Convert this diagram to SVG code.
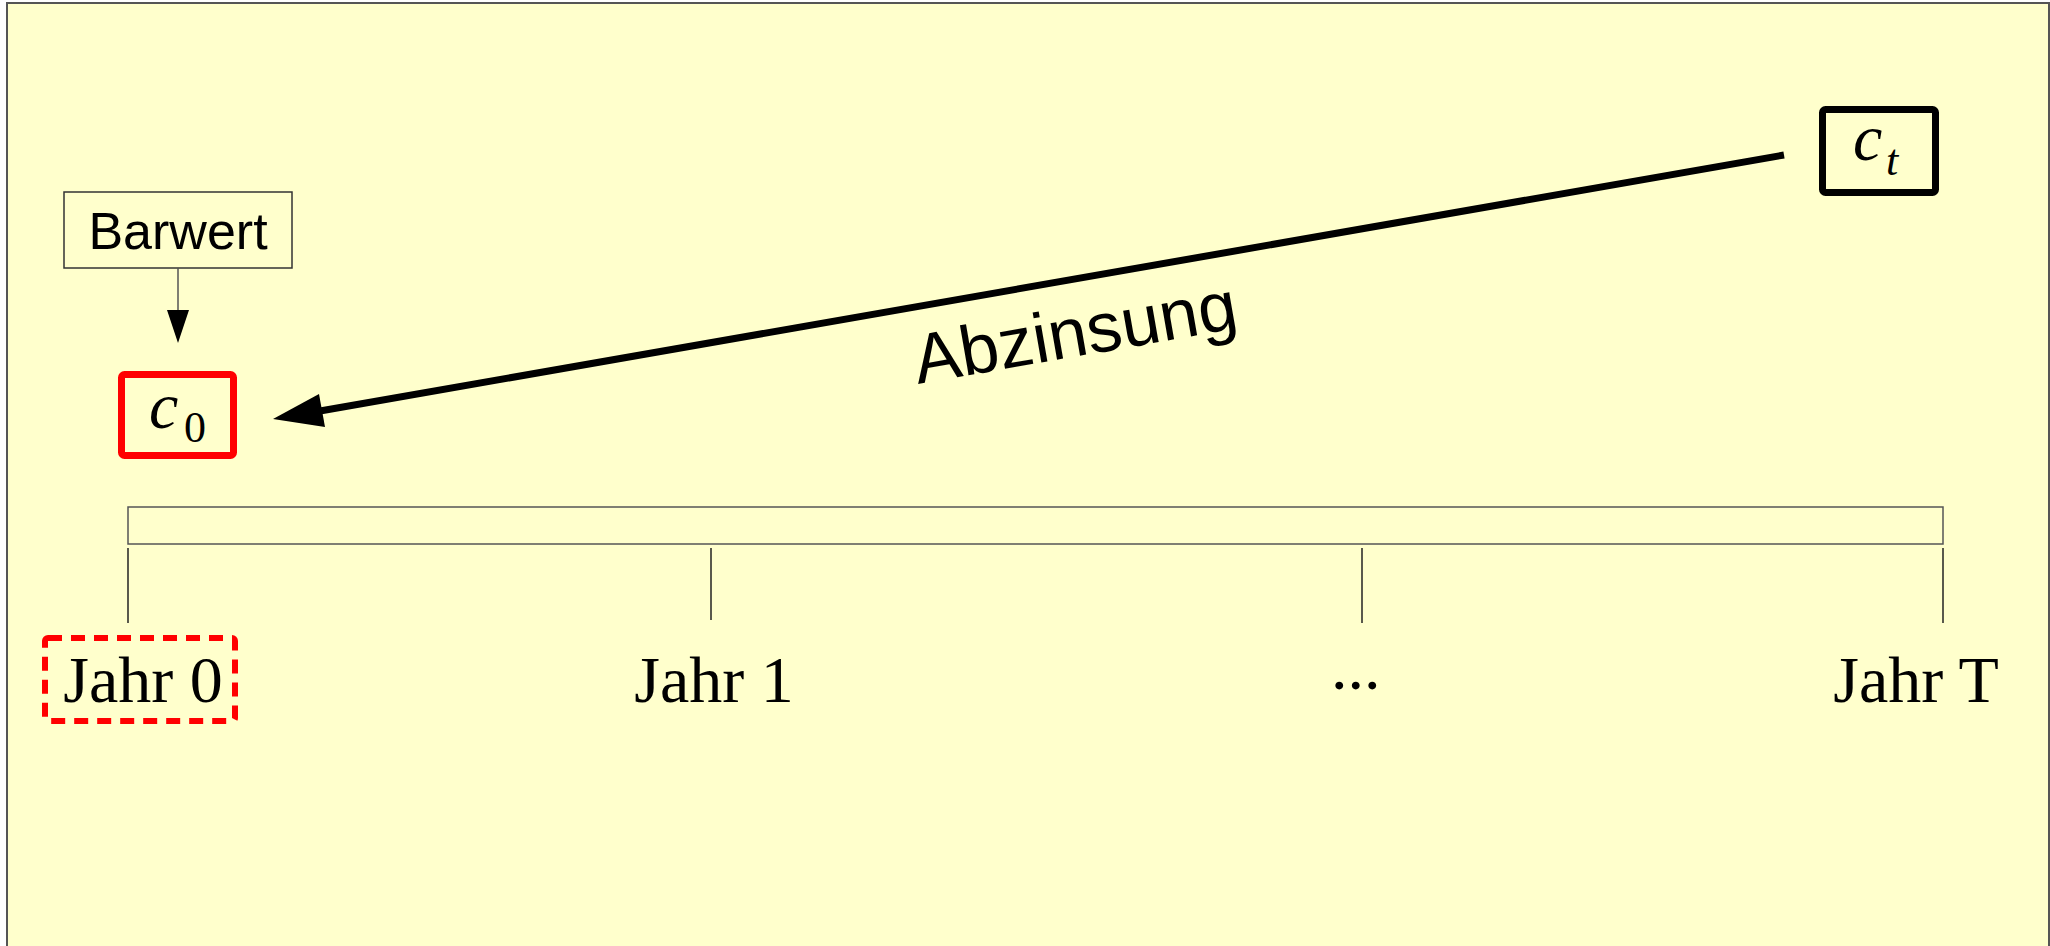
<svg xmlns="http://www.w3.org/2000/svg" width="2050" height="946" viewBox="0 0 2050 946">
<style>
.sans{font-family:"Liberation Sans",Arial,sans-serif;fill:#000}
.serif{font-family:"Liberation Serif","Times New Roman",serif;fill:#000}
.thin{stroke:#555;stroke-width:1.5;fill:none}
.tick{stroke:#222;stroke-width:1.5}
</style>
<rect x="0" y="0" width="2050" height="946" fill="#fff"/>
<rect x="7" y="3" width="2042" height="960" fill="#FFFFCC" stroke="#555" stroke-width="2"/>
<g id="barwert">
<rect x="64" y="192" width="228" height="76" fill="none" stroke="#333" stroke-width="1.5"/>
<text x="178" y="249" class="sans" font-size="52" text-anchor="middle">Barwert</text>
</g>
<g id="c0">
<rect x="121.5" y="374.5" width="112" height="81" rx="3" fill="none" stroke="#FF0000" stroke-width="7"/>
<text x="149" y="428" class="serif" font-size="66" font-style="italic">c</text>
<text x="184" y="442" class="serif" font-size="44">0</text>
</g>
<g id="ct">
<rect x="1822.5" y="109.5" width="113" height="83" rx="3" fill="none" stroke="#000" stroke-width="7"/>
<text x="1853" y="160" class="serif" font-size="66" font-style="italic">c</text>
<text x="1886" y="175" class="serif" font-size="44" font-style="italic">t</text>
</g>
<g id="timeline">
<rect x="128" y="507" width="1815" height="37" class="thin"/>
<line x1="128" y1="548" x2="128" y2="623" class="tick"/>
<line x1="711" y1="548" x2="711" y2="620" class="tick"/>
<line x1="1362" y1="548" x2="1362" y2="623" class="tick"/>
<line x1="1943" y1="548" x2="1943" y2="623" class="tick"/>
</g>
<g id="jahr0">
<rect x="45" y="638" width="190" height="83" rx="3" fill="none" stroke="#FF0000" stroke-width="6" stroke-dasharray="14 9"/>
<text x="143" y="702" class="serif" font-size="66" text-anchor="middle">Jahr 0</text>
</g>
<g id="jahr1">
<text x="714" y="702" class="serif" font-size="66" text-anchor="middle">Jahr 1</text>
</g>
<g id="dots">
<text x="1331" y="689" class="serif" font-size="66">...</text>
</g>
<g id="jahrT">
<text x="1916" y="702" class="serif" font-size="66" text-anchor="middle">Jahr T</text>
</g>
<g id="connectors">
<line x1="178" y1="268" x2="178" y2="311" stroke="#555" stroke-width="1.5"/>
<polygon points="167,310 189,310 178,343" fill="#000"/>
<line x1="1784" y1="155" x2="320" y2="411" stroke="#000" stroke-width="7"/>
<polygon points="273,419 319,394 325,427" fill="#000"/>
<text x="918" y="384" class="sans" font-size="70" transform="rotate(-9.9 918 384)">Abzinsung</text>
</g>
</svg>
